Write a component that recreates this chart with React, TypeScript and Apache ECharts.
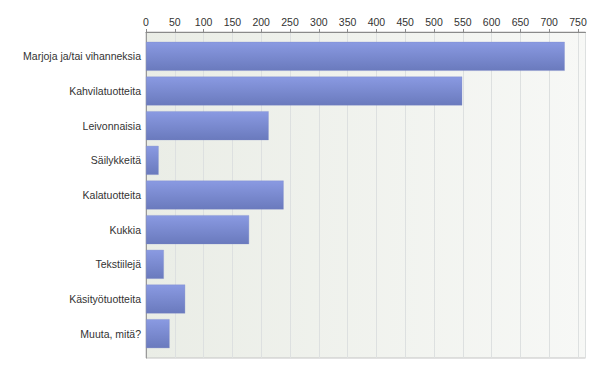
import React, { useEffect, useRef } from "react";
import * as echarts from "echarts";

const categories = [
  "Marjoja ja/tai vihanneksia",
  "Kahvilatuotteita",
  "Leivonnaisia",
  "Säilykkeitä",
  "Kalatuotteita",
  "Kukkia",
  "Tekstiilejä",
  "Käsityötuotteita",
  "Muuta, mitä?",
];
const values = [727, 549, 213, 22, 239, 179, 31, 68, 41];
const axisMax = 763;

export default function App() {
  const ref = useRef<HTMLDivElement>(null);
  useEffect(() => {
    if (!ref.current) return;
    const chart = echarts.init(ref.current, null, { renderer: "svg" });
    const font = "Liberation Sans, Arial, sans-serif";
    chart.setOption({
      animation: false,
      grid: [
        {
          left: 146,
          top: 32,
          width: 439.5,
          height: 326,
          show: true,
          borderColor: "#c4c4c4",
          borderWidth: 1,
          backgroundColor: new echarts.graphic.LinearGradient(0, 0, 1, 0, [
            { offset: 0, color: "#eaede6" },
            { offset: 1, color: "#f7f8f6" },
          ]),
        },
        {
          left: 146,
          top: 39,
          width: 439.5,
          height: 312,
        },
      ],
      xAxis: [
        {
          type: "value",
          gridIndex: 0,
          position: "top",
          min: 0,
          max: axisMax,
          interval: 50,
          axisLine: { show: true, lineStyle: { color: "#8a8a8a", width: 1 } },
          axisTick: { show: true, length: 3, lineStyle: { color: "#8a8a8a" } },
          axisLabel: {
            color: "#333",
            fontSize: 10.5,
            fontFamily: font,
            margin: 5,
            showMaxLabel: false,
          },
          splitLine: { show: true, lineStyle: { color: "#dde0e0", width: 1 } },
        },
        {
          type: "value",
          gridIndex: 1,
          min: 0,
          max: axisMax,
          show: false,
          splitLine: { show: false },
        },
      ],
      yAxis: [
        {
          type: "category",
          gridIndex: 0,
          data: [""],
          axisLine: { show: true, lineStyle: { color: "#999", width: 1 } },
          axisTick: { show: false },
          axisLabel: { show: false },
          splitLine: { show: false },
        },
        {
          type: "category",
          gridIndex: 1,
          data: categories,
          inverse: true,
          axisLine: { show: false },
          axisTick: { show: false },
          axisLabel: {
            color: "#333",
            fontSize: 10.5,
            fontFamily: font,
            margin: 5,
          },
          splitLine: { show: false },
        },
      ],
      series: [
        {
          type: "bar",
          xAxisIndex: 1,
          yAxisIndex: 1,
          data: values,
          barWidth: 29,
          itemStyle: {
            color: new echarts.graphic.LinearGradient(0, 0, 0, 1, [
              { offset: 0, color: "#8a9ae2" },
              { offset: 1, color: "#6a7abd" },
            ]),
            borderColor: "rgba(120,135,200,0.6)",
            borderWidth: 0.5,
          },
        },
      ],
    });
    return () => chart.dispose();
  }, []);
  return <div ref={ref} style={{ width: 600, height: 373, margin: -8 }} />;
}
